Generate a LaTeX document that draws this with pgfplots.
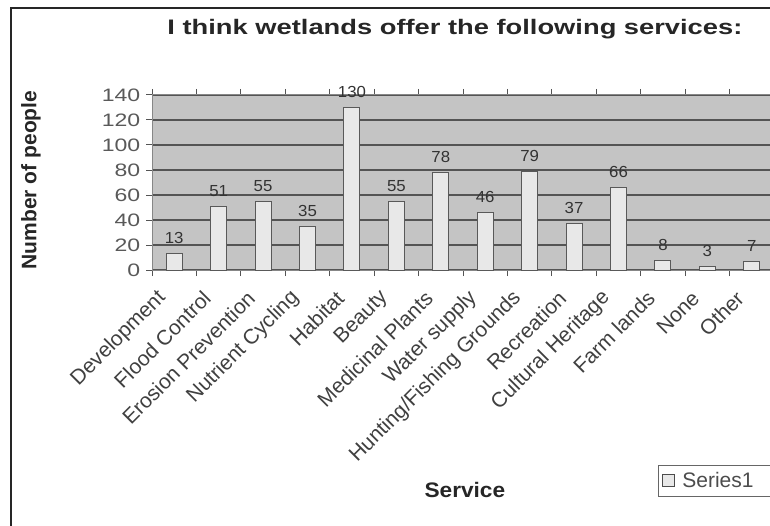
\documentclass[border=0pt]{standalone}
\usepackage{pgfplots}
\pgfplotsset{compat=1.18}
\usepackage{pgfplotstable}
\usepackage{fontspec}
\setmainfont{Liberation Sans}

\definecolor{plotbg}{gray}{0.77}
\definecolor{barfill}{gray}{0.91}
\definecolor{gridc}{gray}{0.33}

\pgfplotstableread{
idx value
0  13
1  51
2  55
3  35
4  130
5  55
6  78
7  46
8  79
9  37
10 66
11 8
12 3
13 7
}\servicedata

\begin{document}
\begin{tikzpicture}[x=1pt,y=1pt]
\useasboundingbox (0,0) rectangle (770,525);
% outer chart frame
\draw[line width=2pt, black!85] (11,-10) -- (11,517) -- (800,517);

\begin{axis}[
  at={(152pt,255pt)}, anchor=south west,
  scale only axis, width=622pt, height=175pt,
  ybar, bar width=16pt,
  xmin=-0.5, xmax=13.5, ymin=0, ymax=140,
  ytick={0,20,...,140},
  xtick={0,...,13},
  xticklabels={Development,Flood Control,Erosion Prevention,Nutrient Cycling,Habitat,Beauty,Medicinal Plants,Water supply,Hunting/Fishing Grounds,Recreation,Cultural Heritage,Farm lands,None,Other},
  minor xtick={-0.5,0.5,...,13.5},
  major x tick style={draw=none},
  minor x tick style={draw=gridc, line width=1pt},
  ytick style={draw=gridc, line width=1pt},
  tick align=outside,
  major tick length=6pt, minor tick length=6pt,
  axis background/.style={fill=plotbg},
  axis line style={draw=gridc!70, line width=1pt},
  ymajorgrids,
  major grid style={draw=gridc, line width=1.8pt},
  /pgf/number format/assume math mode=true,
  yticklabel style={font=\fontsize{18}{18}\selectfont, text=black!65, anchor=east, xscale=1.28, xshift=-1pt},
  xticklabel style={font=\fontsize{21}{21}\selectfont, text=black!75, inner sep=1pt, xshift=-11pt, yshift=-18pt, rotate=45, anchor=east},
  title={I think wetlands offer the following services:},
  title style={font=\bfseries\fontsize{21}{21}\selectfont, text=black!85, at={(rel axis cs:0.487,1.3086)}, anchor=base, xscale=1.3},
  ylabel={Number of people},
  ylabel style={font=\bfseries\fontsize{21}{21}\selectfont, text=black!85, at={(rel axis cs:-0.1945,0.514)}, anchor=center, rotate=0},
  xlabel={Service},
  xlabel style={font=\bfseries\fontsize{21}{21}\selectfont, text=black!85, at={(rel axis cs:0.503,-1.257)}, anchor=center, xscale=1.08},
  nodes near coords,
  every node near coord/.append style={font=\fontsize{16}{16}\selectfont, text=black!80, xscale=1.05, yshift=6pt},
  legend style={at={(rel axis cs:0.8135,-1.114)}, anchor=north west, draw=black!60, line width=1pt,
    font=\fontsize{21}{21}\selectfont, text=black!70, inner xsep=3pt, inner ysep=5pt, legend cell align=left},
  legend image code/.code={\draw[fill=barfill, draw=black!70, line width=0.8pt] (6pt,-6pt) rectangle (18pt,6pt); \path (24pt,0pt);},
]
\addplot[fill=barfill, draw=black!65, line width=1pt] table[x=idx, y=value] {\servicedata};
\legend{\makebox[110pt][l]{Series1}}
\end{axis}
\end{tikzpicture}
\end{document}
